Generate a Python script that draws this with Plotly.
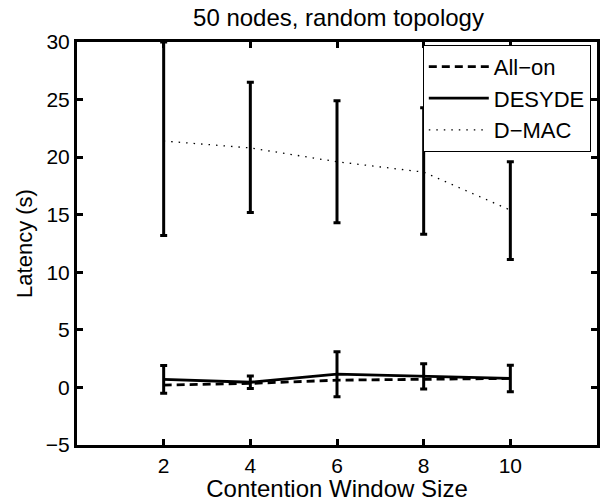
import plotly.graph_objects as go

cw = [2, 4, 6, 8, 10]
all_on = [0.2, 0.35, 0.63, 0.72, 0.78]
desyde = [0.7, 0.45, 1.15, 0.96, 0.78]
desyde_err = [1.2, 0.55, 1.95, 1.1, 1.15]
dmac = [21.4, 20.8, 19.6, 18.7, 15.4]
dmac_err_plus = [8.6, 5.7, 5.3, 5.6, 4.2]
dmac_err_minus = [8.2, 5.6, 5.3, 5.4, 4.3]

x_ticks = [2, 4, 6, 8, 10]
y_ticks = [-5, 0, 5, 10, 15, 20, 25, 30]

FONT = "Liberation Sans, Arial, Helvetica, sans-serif"

fig = go.Figure()
fig.add_trace(go.Scatter(
    x=cw, y=all_on, mode="lines", name="All\u2212on",
    line=dict(color="black", width=2.8, dash="8px,5px"),
))
fig.add_trace(go.Scatter(
    x=cw, y=desyde, mode="lines", name="DESYDE",
    line=dict(color="black", width=2.8),
    error_y=dict(type="data", array=desyde_err, color="black", thickness=3, width=3.5),
))
fig.add_trace(go.Scatter(
    x=cw, y=dmac, mode="lines", name="D\u2212MAC",
    line=dict(color="black", width=1.3, dash="1.5px,6px"),
    error_y=dict(type="data", symmetric=False, array=dmac_err_plus,
                 arrayminus=dmac_err_minus, color="black", thickness=3, width=3.5),
))

axis_common = dict(
    showline=True, linecolor="black", linewidth=3, mirror="ticks",
    ticks="inside", ticklen=6, tickwidth=2.5, tickcolor="black",
    showgrid=False, zeroline=False,
    tickfont=dict(family=FONT, size=21, color="black"),
)

fig.update_layout(
    width=608, height=502,
    margin=dict(l=77, r=8, t=42, b=55),
    paper_bgcolor="white", plot_bgcolor="white",
    font=dict(family=FONT, color="black"),
    title=dict(text="50 nodes, random topology", x=0.5567, xanchor="center",
               y=0.964, yanchor="middle", yref="container",
               font=dict(family=FONT, size=24, color="black")),
    xaxis=dict(range=[0, 12], tickvals=x_ticks, **axis_common,
               title=dict(text="Contention Window Size", standoff=0,
                          font=dict(family=FONT, size=24, color="black"))),
    yaxis=dict(range=[-5, 30], tickvals=y_ticks, **axis_common,
               title=dict(text="Latency (s)", standoff=8,
                          font=dict(family=FONT, size=22, color="black"))),
    legend=dict(x=0.665, y=0.993, xanchor="left", yanchor="top",
                bgcolor="white", bordercolor="black", borderwidth=1,
                font=dict(family=FONT, size=22, color="black"),
                itemwidth=60, tracegroupgap=0),
    showlegend=True,
)

fig.write_html("out.html")
